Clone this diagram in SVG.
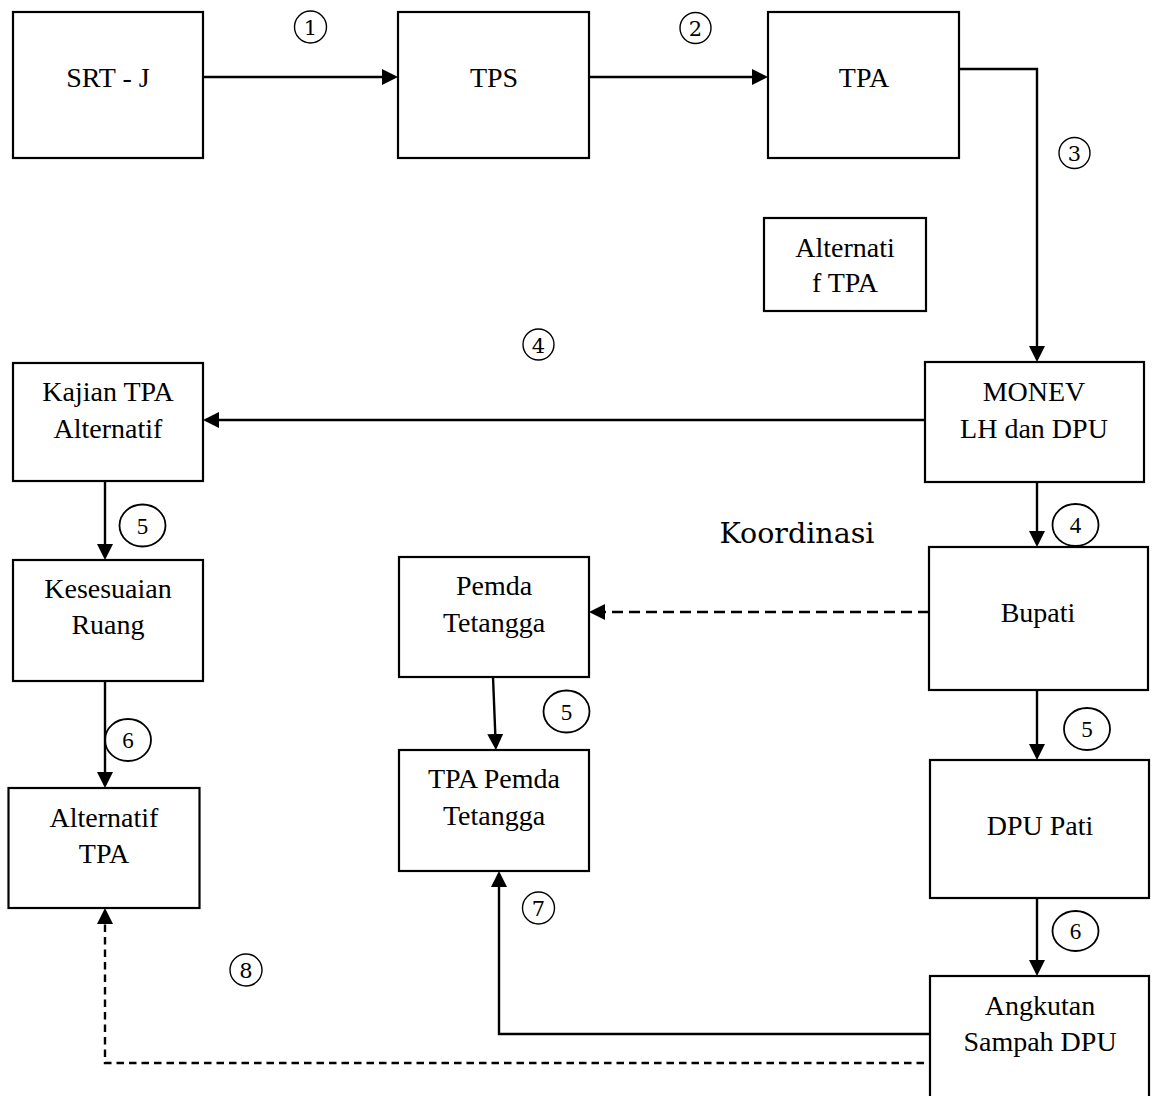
<svg xmlns="http://www.w3.org/2000/svg" width="1152" height="1096" viewBox="0 0 1152 1096">
<style>
.box{fill:#fff;stroke:#000;stroke-width:2.2}
.t{font-family:"Liberation Serif","Times New Roman",serif;font-size:28px;fill:#000;text-anchor:middle}
.k{font-family:"DejaVu Serif","Liberation Serif",serif;font-size:28.5px;fill:#000;text-anchor:middle}
.ln{fill:none;stroke:#000;stroke-width:2.4}
.d1{stroke-dasharray:11 6}
.d2{stroke-dasharray:7.5 5}
.c1{fill:none;stroke:#000;stroke-width:1.4}
.c2{fill:none;stroke:#000;stroke-width:1.8}
.n1{font-family:"DejaVu Serif","Liberation Serif",serif;font-size:21px;fill:#000;text-anchor:middle}
.n2{font-family:"Liberation Serif","Times New Roman",serif;font-size:23px;fill:#000;text-anchor:middle}
</style>
<defs>
<marker id="ah" viewBox="0 0 16 16" refX="13" refY="8" markerWidth="16" markerHeight="16" markerUnits="userSpaceOnUse" orient="auto">
<path d="M0,0 L16,8 L0,16 z" fill="#000"/>
</marker>
</defs>
<g id="connectors">
<path class="ln" d="M203,77 L395,77" marker-end="url(#ah)"/>
<path class="ln" d="M589,77 L765,77" marker-end="url(#ah)"/>
<path class="ln" d="M959,69 L1037,69 L1037,359" marker-end="url(#ah)"/>
<path class="ln" d="M925,420 L206,420" marker-end="url(#ah)"/>
<path class="ln" d="M1037,482 L1037,544" marker-end="url(#ah)"/>
<path class="ln" d="M105,481 L105,557" marker-end="url(#ah)"/>
<path class="ln" d="M105,681 L105,785" marker-end="url(#ah)"/>
<path class="ln d1" d="M929,612 L592,612" marker-end="url(#ah)"/>
<path class="ln" d="M493,677 L495.8,747" marker-end="url(#ah)"/>
<path class="ln" d="M1037,690 L1037,757" marker-end="url(#ah)"/>
<path class="ln" d="M1037,898 L1037,973" marker-end="url(#ah)"/>
<path class="ln" d="M930,1034 L499,1034 L499,874" marker-end="url(#ah)"/>
<path class="ln d2" d="M924,1063 L105,1063 L105,911" marker-end="url(#ah)"/>
</g>
<g id="labels">
<circle class="c1" cx="310.5" cy="27" r="16"/><text class="n1" x="310.5" y="35">1</text>
<circle class="c1" cx="695.5" cy="28" r="15.5"/><text class="n1" x="695.5" y="36">2</text>
<circle class="c1" cx="1074.5" cy="153" r="15.5"/><text class="n1" x="1074.5" y="161">3</text>
<circle class="c1" cx="538.5" cy="344.5" r="15.5"/><text class="n1" x="538.5" y="352.5">4</text>
<circle class="c1" cx="538.5" cy="908" r="16"/><text class="n1" x="538.5" y="916">7</text>
<circle class="c1" cx="246" cy="970" r="16"/><text class="n1" x="246" y="978">8</text>
<ellipse class="c2" cx="142.5" cy="525.5" rx="23" ry="21"/><text class="n2" x="142.5" y="533.5">5</text>
<ellipse class="c2" cx="128" cy="740" rx="23" ry="21"/><text class="n2" x="128" y="748">6</text>
<ellipse class="c2" cx="1075.5" cy="525" rx="23" ry="21"/><text class="n2" x="1075.5" y="533">4</text>
<ellipse class="c2" cx="566.5" cy="711.5" rx="23" ry="21"/><text class="n2" x="566.5" y="719.5">5</text>
<ellipse class="c2" cx="1087" cy="729" rx="23" ry="21"/><text class="n2" x="1087" y="737">5</text>
<ellipse class="c2" cx="1075.5" cy="931" rx="23" ry="20"/><text class="n2" x="1075.5" y="939">6</text>
<text class="k" x="797" y="543">Koordinasi</text>
</g>
<g id="srt-j"><rect class="box" x="13" y="12" width="190" height="146"/><text class="t" x="108" y="87">SRT - J</text></g>
<g id="tps"><rect class="box" x="398" y="12" width="191" height="146"/><text class="t" x="494" y="87">TPS</text></g>
<g id="tpa"><rect class="box" x="768" y="12" width="191" height="146"/><text class="t" x="864" y="87">TPA</text></g>
<g id="alternatif-tpa-small"><rect class="box" x="764" y="218" width="162" height="93"/><text class="t" x="845" y="257">Alternati</text><text class="t" x="845" y="292">f TPA</text></g>
<g id="monev"><rect class="box" x="925" y="362" width="219" height="120"/><text class="t" x="1034" y="401">MONEV</text><text class="t" x="1034" y="438">LH dan DPU</text></g>
<g id="kajian"><rect class="box" x="13" y="363" width="190" height="118"/><text class="t" x="108" y="401">Kajian TPA</text><text class="t" x="108" y="438">Alternatif</text></g>
<g id="kesesuaian"><rect class="box" x="13" y="560" width="190" height="121"/><text class="t" x="108" y="598">Kesesuaian</text><text class="t" x="108" y="634">Ruang</text></g>
<g id="pemda"><rect class="box" x="399" y="557" width="190" height="120"/><text class="t" x="494" y="595">Pemda</text><text class="t" x="494" y="632">Tetangga</text></g>
<g id="bupati"><rect class="box" x="929" y="547" width="219" height="143"/><text class="t" x="1038" y="622">Bupati</text></g>
<g id="tpa-pemda"><rect class="box" x="399" y="750" width="190" height="121"/><text class="t" x="494" y="788">TPA Pemda</text><text class="t" x="494" y="825">Tetangga</text></g>
<g id="alternatif-tpa"><rect class="box" x="8.5" y="788" width="191" height="120"/><text class="t" x="104" y="827">Alternatif</text><text class="t" x="104" y="863">TPA</text></g>
<g id="dpu-pati"><rect class="box" x="930" y="760" width="219" height="138"/><text class="t" x="1040" y="835">DPU Pati</text></g>
<g id="angkutan"><rect class="box" x="930" y="976" width="219" height="124"/><text class="t" x="1040" y="1015">Angkutan</text><text class="t" x="1040" y="1051">Sampah DPU</text></g>
</svg>
